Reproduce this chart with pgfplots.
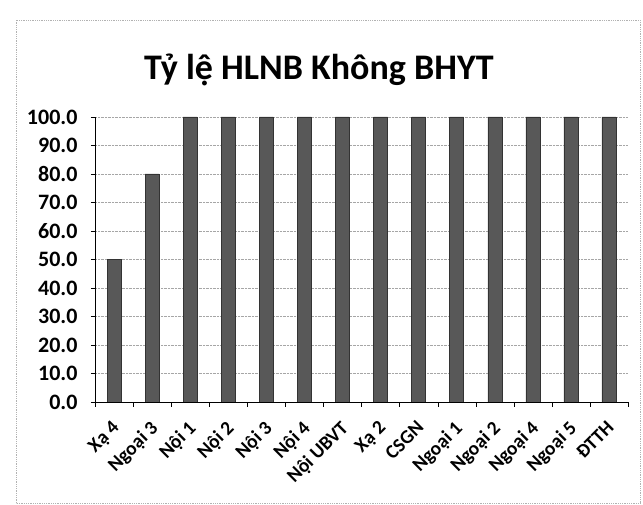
\documentclass[border=0pt]{standalone}
\usepackage{pgfplots}
\pgfplotsset{compat=1.18}
\usepackage{fontspec}
\setmainfont{Carlito}
\definecolor{barc}{RGB}{88,88,88}
\begin{document}
\begin{tikzpicture}[x=1pt,y=1pt]
\useasboundingbox (-95,-103) rectangle (548,402);
\draw[gray!60, densely dotted, line width=0.8pt] (-79,-101) rectangle (545,382);
\begin{axis}[
  at={(0,0)}, anchor=south west,
  scale only axis, width=533pt, height=285pt,
  ymin=0, ymax=100, ytick={0,10,...,100},
  xmin=-0.5, xmax=13.5,
  xtick={0,...,13},
  xticklabels={Xạ 4,Ngoại 3,Nội 1,Nội 2,Nội 3,Nội 4,Nội UBVT,Xạ 2,CSGN,Ngoại 1,Ngoại 2,Ngoại 4,Ngoại 5,ĐTTH},
  x tick label style={xshift=-3pt, yshift=-12pt, rotate=45, anchor=north east, font=\fontsize{19.5}{22}\selectfont\bfseries, inner sep=1pt},
  y tick label style={xshift=-10pt, font=\fontsize{22}{26}\selectfont\bfseries},
  /pgf/number format/assume math mode=true,
  /pgf/number format/.cd, fixed, fixed zerofill, precision=1, /pgfplots/.cd,
  ytick style={black}, ytick align=outside, major tick length=4pt,
  xtick style={draw=none},
  extra x ticks={-0.5,0.5,...,13.5}, extra x tick labels={},
  extra x tick style={xtick style={black, draw=black}, major tick length=5pt, tick align=outside, grid=none},
  ymajorgrids, grid style={gray!70, densely dotted, line width=0.8pt},
  axis x line*=bottom, axis y line*=left,
  axis line style={black, line width=0.8pt, -},
  ybar, bar width=14pt,
  title={\fontsize{36}{42}\selectfont\bfseries Tỷ lệ HLNB Không BHYT},
  title style={at={(0.42,1)}, anchor=south, yshift=22pt},
]
\addplot[fill=barc, draw=black!80] coordinates {
(0,50) (1,80) (2,100) (3,100) (4,100) (5,100) (6,100) (7,100) (8,100) (9,100) (10,100) (11,100) (12,100) (13,100)};
\end{axis}
\end{tikzpicture}
\end{document}
